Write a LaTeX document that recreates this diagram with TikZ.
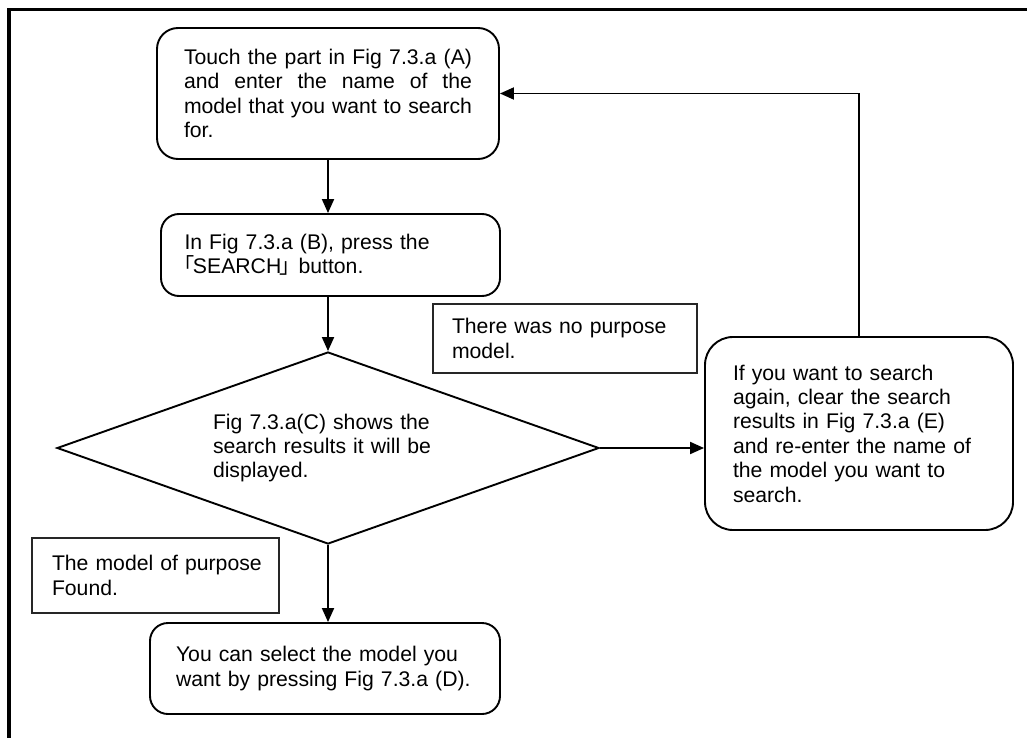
\documentclass[tikz,border=0pt]{standalone}
\usepackage{fontspec}
\setmainfont{Liberation Sans}
\newfontfamily\cjkfont{Noto Sans CJK JP}
\usetikzlibrary{arrows.meta,shapes.geometric}

% corner brackets set tight against the word they enclose
\newcommand{\openq}{\kern-0.52em{\cjkfont 「}\kern-0.08em}
\newcommand{\closeq}{\kern-0.1em{\cjkfont 」}\kern-0.42em}
% a line spread out to the full width of the first step's text
\newcommand{\fullline}[1]{\leavevmode\hbox to 288pt{#1}}

\begin{document}
\begin{tikzpicture}[x=1pt,y=-1pt,
  every node/.style={font=\fontsize{21.2}{24.4}\selectfont, inner sep=0pt},
  stepbox/.style={draw, line width=1.9pt, rounded corners=#1},
  stepbox/.default=20pt,
  notebox/.style={draw=black!85, line width=1.2pt},
  decision/.style={draw, line width=1.9pt, diamond, aspect=2.82},
  flow/.style={line width=1.9pt, -{Triangle[length=14pt,width=12pt]}},
  frame/.style={line width=3.7pt}
]
\useasboundingbox (0,0) rectangle (1027,738);

% outer frame, open at the right and at the bottom
\coordinate (frameBL) at (9,738);
\coordinate (frameTL) at (9,9.5);
\coordinate (frameTR) at (1027,9.5);
\draw[frame, line join=miter] (frameBL) -- (frameTL) -- (frameTR);

% process steps
\node[stepbox=21pt, minimum width=342, minimum height=131, text width=288,
      align=left] (A) at (328,93.5)
  {\fullline{Touch\hfill the\hfill part\hfill in\hfill Fig\hfill 7.3.a\hfill (A)}\\
   \fullline{and\hfill enter\hfill the\hfill name\hfill of\hfill the}\\
   \fullline{model\hfill that\hfill you\hfill want\hfill to\hfill search}\\
   \mbox{for.}};

\node[stepbox=18pt, minimum width=339, minimum height=82, text width=292,
      align=left] (B) at (330.5,255)
  {\mbox{In Fig 7.3.a (B), press the}\\\mbox{\openq SEARCH\closeq\ button.}};

\node[decision, minimum width=542, minimum height=192, text width=230,
      align=left] (C) at (328,448)
  {\mbox{Fig 7.3.a(C) shows the}\\\mbox{search results it will be}\\\mbox{displayed.}};

\node[stepbox=28pt, minimum width=308, minimum height=193, text width=252,
      align=left] (E) at (859,433.5)
  {\mbox{If you want to search}\\\mbox{again, clear the search}\\\mbox{results in Fig 7.3.a (E)}\\\mbox{and re-enter the name of}\\\mbox{the model you want to}\\\mbox{search.}};

\node[stepbox=18pt, minimum width=350, minimum height=91, text width=298,
      align=left] (D) at (325,668.5)
  {\mbox{You can select the model you}\\\mbox{want by pressing Fig 7.3.a (D).}};

% branch notes
\node[notebox, minimum width=264, minimum height=69, text width=226,
      align=left] (N) at (565,338.5)
  {\mbox{There was no purpose}\\\mbox{model.}};

\node[notebox, minimum width=247, minimum height=75, text width=207,
      align=left] (F) at (155.5,575.5)
  {\mbox{The model of purpose}\\\mbox{Found.}};

% connectors
\draw[flow] (A.south) -- (A.south |- B.north);
\draw[flow] (B.south -| C.north) -- (C.north);
\draw[flow] (C.south) -- (C.south |- D.north);
\draw[flow] (C.east) -- (C.east -| E.west);
\draw[flow] (E.north) |- (A.east);
\end{tikzpicture}
\end{document}
